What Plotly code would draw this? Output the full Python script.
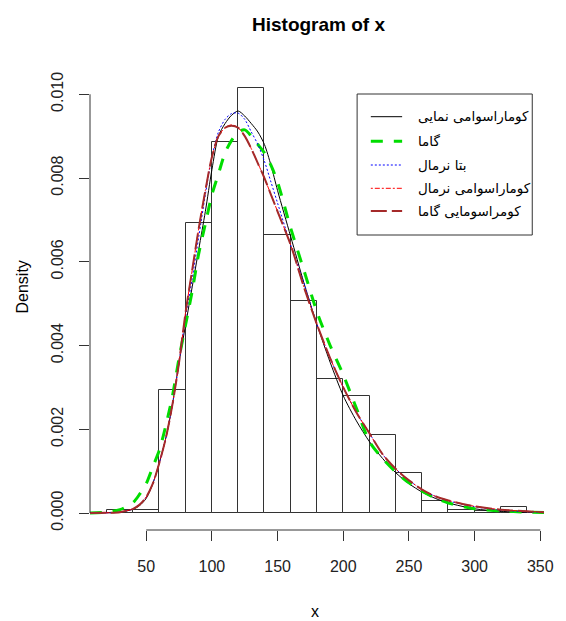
import plotly.graph_objects as go

# ---------------- data ----------------
bin_edges = [20, 40, 60, 80, 100, 120, 140, 160, 180, 200, 220, 240, 260, 280, 300, 320, 340]
bin_density = [0.00007, 0.00007, 0.00293, 0.00693, 0.00886, 0.01014, 0.00664, 0.00507,
               0.00321, 0.00279, 0.00186, 0.00096, 0.00029, 0.00007, 0.00004, 0.00014]

x_grid = [7, 20, 30, 40, 45, 50, 55, 60, 65, 70, 75, 80, 85, 90, 95, 100, 105, 110, 115,
          120, 125, 130, 135, 140, 145, 150, 160, 170, 180, 190, 200, 210, 220, 230, 240,
          250, 260, 270, 280, 300, 320, 340, 353]

kum_exp = [0.0, 0.000005, 0.00002, 0.00009, 0.00018, 0.00035, 0.0007, 0.0012, 0.0018, 0.0026,
           0.0036, 0.0045, 0.0054, 0.0063, 0.0072, 0.0082, 0.0090, 0.0093, 0.0095, 0.0096,
           0.00948, 0.0093, 0.0091, 0.0088, 0.0083, 0.0077, 0.0066, 0.0055, 0.0045, 0.0036,
           0.0028, 0.0022, 0.0017, 0.0013, 0.00096, 0.0007, 0.0005, 0.00035, 0.00024, 0.0001,
           0.00004, 0.000015, 0.000008]

gamma = [0.0, 0.00002, 0.00008, 0.00025, 0.00045, 0.0007, 0.0011, 0.0015, 0.0021, 0.0028,
         0.0037, 0.0045, 0.0053, 0.0062, 0.0069, 0.0076, 0.0081, 0.0086, 0.0089, 0.0091,
         0.00915, 0.0090, 0.0088, 0.0086, 0.0083, 0.0079, 0.0068, 0.0058, 0.0048, 0.0040,
         0.0033, 0.0025, 0.0017, 0.0013, 0.00098, 0.00072, 0.00052, 0.00036, 0.00024, 0.0001,
         0.00005, 0.00002, 0.00001]

beta_norm = [0.0, 0.000005, 0.00002, 0.0001, 0.0002, 0.00038, 0.0007, 0.0012, 0.0018, 0.0026,
             0.0036, 0.0047, 0.0056, 0.0066, 0.0076, 0.0085, 0.0091, 0.0094, 0.00954, 0.00955,
             0.0094, 0.0091, 0.0088, 0.0084, 0.0079, 0.0074, 0.0064, 0.0055, 0.0045, 0.0037,
             0.0030, 0.0024, 0.0019, 0.0014, 0.00105, 0.00078, 0.00056, 0.0004, 0.00029, 0.00015,
             0.00007, 0.00003, 0.00002]

kum_norm = [0.000002, 0.000005, 0.00002, 0.0001, 0.0002, 0.00038, 0.0007, 0.0012, 0.0018, 0.0026,
            0.0036, 0.0048, 0.0058, 0.0068, 0.0077, 0.0085, 0.0090, 0.0092, 0.00927, 0.0092,
            0.0090, 0.0087, 0.00835, 0.0080, 0.0076, 0.0072, 0.0064, 0.0054, 0.0045, 0.0037,
            0.0030, 0.0024, 0.0019, 0.0014, 0.00105, 0.00078, 0.00056, 0.0004, 0.0003, 0.00016,
            0.00008, 0.00004, 0.00002]

kum_gamma = [0.000002, 0.000005, 0.00002, 0.0001, 0.0002, 0.00038, 0.0007, 0.0012, 0.0018, 0.0026,
             0.0036, 0.0048, 0.0058, 0.0068, 0.0077, 0.0085, 0.0090, 0.0092, 0.00925, 0.0092,
             0.0090, 0.0087, 0.00835, 0.0080, 0.0076, 0.0072, 0.0064, 0.0054, 0.0045, 0.0037,
             0.0030, 0.0024, 0.0019, 0.0014, 0.00105, 0.00078, 0.00056, 0.0004, 0.0003, 0.00016,
             0.00008, 0.00004, 0.00002]

legend_labels = ["کوماراسوامی نمایی", "گاما", "بتا نرمال", "کوماراسوامی نرمال", "کومراسومایی گاما"]
x_ticks = [50, 100, 150, 200, 250, 300, 350]
y_ticks = [0.0, 0.002, 0.004, 0.006, 0.008, 0.010]
y_tick_text = ["0.000", "0.002", "0.004", "0.006", "0.008", "0.010"]

# ---------------- figure ----------------
FONT = "Liberation Sans, Arial, sans-serif"
fig = go.Figure()

centers = [(a + b) / 2 for a, b in zip(bin_edges[:-1], bin_edges[1:])]
widths = [b - a for a, b in zip(bin_edges[:-1], bin_edges[1:])]
fig.add_trace(go.Bar(x=centers, y=bin_density, width=widths,
                     marker=dict(color="rgba(0,0,0,0)", line=dict(color="#333333", width=1)),
                     showlegend=False, hoverinfo="skip"))

styles = [
    (kum_exp, dict(color="black", width=1, dash="solid")),
    (gamma, dict(color="#00dd00", width=3, dash="12px,11px")),
    (beta_norm, dict(color="blue", width=1, dash="2px,2px")),
    (kum_norm, dict(color="red", width=1, dash="2px,2px,5px,2px")),
    (kum_gamma, dict(color="#a52a2a", width=2, dash="16px,5px")),
]
for ys, ln in styles:
    fig.add_trace(go.Scatter(x=x_grid, y=ys, mode="lines",
                             line=dict(shape="spline", smoothing=0.8, **ln),
                             showlegend=False, hoverinfo="skip"))

# page body has an 8px margin: shrink the figure and shift by it
OFF = 8
W, H = 566 - OFF, 621 - OFF
L, R, T, B = 90 - OFF, 12, 71 - OFF, 91
pw, ph = W - L - R, H - T - B

def px(xp):
    return (xp - OFF - L) / pw

def py(yp):
    return (H - B - (yp - OFF)) / ph

shapes = []
shapes.append(dict(type="line", xref="x", yref="paper", x0=x_ticks[0], x1=x_ticks[-1], y0=0, y1=0,
                   line=dict(color="#333333", width=1)))
shapes.append(dict(type="line", xref="paper", yref="y", x0=0, x1=0, y0=y_ticks[0], y1=y_ticks[-1],
                   line=dict(color="#333333", width=1)))
shapes.append(dict(type="rect", xref="paper", yref="paper",
                   x0=px(363), x1=px(542), y0=py(94), y1=py(235),
                   line=dict(color="#333333", width=1), fillcolor="white", layer="above"))
annotations = []
row_y = [116.7, 141.3, 165.0, 188.3, 211.0]
for (ys, ln), lab, ry in zip(styles, legend_labels, row_y):
    shapes.append(dict(type="line", xref="paper", yref="paper", x0=px(377), x1=px(409),
                       y0=py(ry), y1=py(ry), line=ln, layer="above"))
    annotations.append(dict(text=lab, xref="paper", yref="paper", x=px(423), y=py(ry),
                            xanchor="left", yanchor="middle", showarrow=False,
                            font=dict(family="DejaVu Sans, sans-serif", size=13.5, color="black")))

annotations.append(dict(text="<b>Histogram of x</b>", xref="paper", yref="paper",
                        x=px(324), y=py(25), xanchor="center", yanchor="middle", showarrow=False,
                        font=dict(family=FONT, size=19, color="black")))
annotations.append(dict(text="x", xref="paper", yref="paper", x=px(320), y=py(611),
                        xanchor="center", yanchor="middle", showarrow=False,
                        font=dict(family=FONT, size=16, color="black")))
annotations.append(dict(text="Density", xref="paper", yref="paper", x=px(20), y=py(287),
                        xanchor="center", yanchor="middle", showarrow=False, textangle=-90,
                        font=dict(family=FONT, size=16, color="black")))

fig.update_layout(
    width=W, height=H, margin=dict(l=L, r=R, t=T, b=B, pad=0),
    plot_bgcolor="white", paper_bgcolor="white",
    bargap=0, showlegend=False,
    font=dict(family=FONT, size=16, color="#222222"),
    shapes=shapes, annotations=annotations,
    xaxis=dict(range=[7.2, 352.8], tickvals=x_ticks, ticktext=[str(v) for v in x_ticks],
               showgrid=False, zeroline=False, showline=False, ticks="outside", ticklen=10,
               tickcolor="#333333", tickwidth=1, ticklabelstandoff=12,
               tickfont=dict(family=FONT, size=16, color="#222222")),
    yaxis=dict(range=[-0.000406, 0.010556], tickvals=y_ticks, ticktext=y_tick_text,
               showgrid=False, zeroline=False, showline=False, ticks="outside", ticklen=10,
               tickcolor="#333333", tickwidth=1, tickangle=-90, ticklabelstandoff=10,
               tickfont=dict(family=FONT, size=16, color="#222222")),
)

fig.write_html("out.html")
